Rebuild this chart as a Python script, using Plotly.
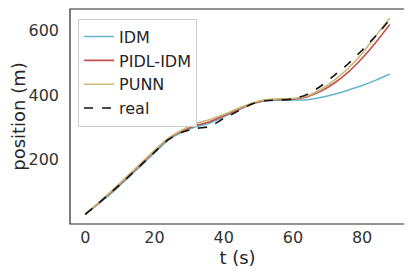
import plotly.graph_objects as go

t = [0, 4, 8, 12, 16, 20, 24, 28, 32, 36, 40, 44, 48, 52, 56, 60, 64, 68, 72, 76, 80, 84, 88]
idm = [30, 64, 100, 140, 180, 221, 261, 286, 302, 314, 333, 353, 372, 383, 385, 385, 386, 393, 403, 416, 430, 447, 466]
pidl = [30, 66, 104, 144, 185, 226, 265, 289, 306, 318, 336, 355, 373, 384, 387, 388, 395, 412, 438, 472, 515, 565, 620]
punn = [30, 68, 107, 147, 188, 229, 267, 292, 312, 325, 340, 358, 375, 386, 389, 390, 398, 418, 447, 484, 530, 585, 640]
real = [30, 66, 103, 142, 182, 223, 262, 285, 297, 303, 328, 350, 372, 383, 385, 389, 402, 428, 462, 498, 540, 585, 635]

series = [
    ("IDM", idm, "#64b5cd", "solid"),
    ("PIDL-IDM", pidl, "#c44e52", "solid"),
    ("PUNN", punn, "#ccb974", "solid"),
    ("real", real, "#111111", "dash"),
]

fig = go.Figure()
for name, y, color, dash in series:
    fig.add_trace(go.Scatter(
        x=t, y=y, name=name, mode="lines",
        line=dict(color=color, width=1.6, dash=dash, shape="spline", smoothing=0.8),
    ))

axis_common = dict(
    showgrid=False, zeroline=False, showline=False,
    ticks="", tickfont=dict(size=16, color="#333333"), automargin=False,
)
fig.update_layout(
    width=404, height=270,
    margin=dict(l=62, r=7, t=1, b=54),
    paper_bgcolor="white", plot_bgcolor="white",
    font=dict(family="DejaVu Sans", color="#262626"),
    showlegend=True,
    legend=dict(
        x=0.024, y=0.955, xanchor="left", yanchor="top",
        bgcolor="rgba(255,255,255,0.8)", bordercolor="#cccccc", borderwidth=1,
        font=dict(size=16, color="#262626"), tracegroupgap=0,
    ),
    xaxis=dict(axis_common, range=[-4.4, 92.4], dtick=20, tick0=0, ticklabelstandoff=2,
               title=dict(text="t (s)", font=dict(size=18), standoff=2)),
    yaxis=dict(axis_common, range=[0, 668], tickvals=[200, 400, 600], ticklabelstandoff=10,
               title=dict(text="position (m)", font=dict(size=18), standoff=13)),
    shapes=[dict(type="rect", xref="paper", yref="paper", x0=0, y0=0, x1=1, y1=1,
                 line=dict(color="#262626", width=1.2), fillcolor="rgba(0,0,0,0)", layer="above")],
)
fig.write_html("out.html")
